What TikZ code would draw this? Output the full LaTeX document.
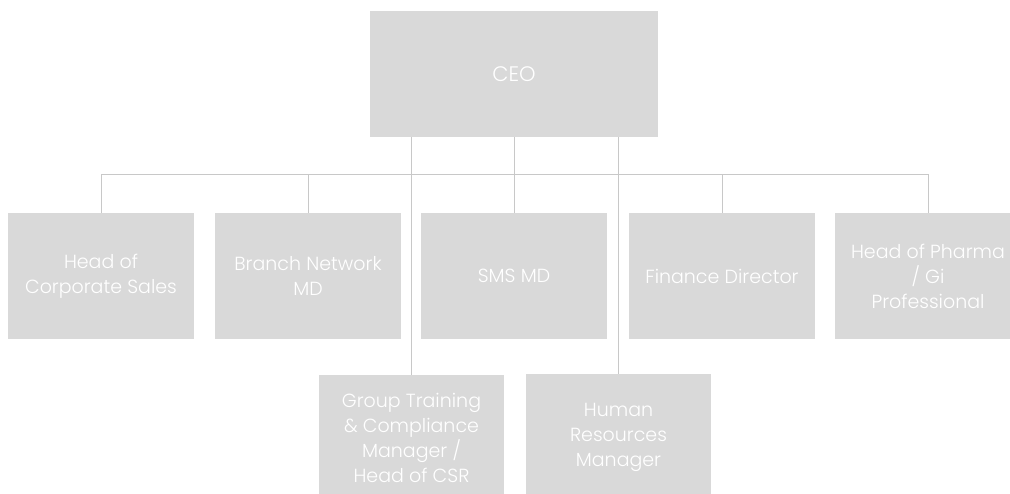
\documentclass[tikz,border=0pt]{standalone}
\usepackage{fontspec}
\setmainfont{Poppins}[UprightFont=* Light]
\begin{document}
\begin{tikzpicture}[x=1pt,y=1pt,
  box/.style={fill=boxgray,draw=none,minimum width=186pt,minimum height=126pt,inner sep=0pt,
    text=white,align=center,font=\fontsize{19}{25}\selectfont},
  link/.style={draw=linegray,line width=1pt}]
\definecolor{boxgray}{HTML}{D9D9D9}
\definecolor{linegray}{HTML}{C8C8C8}
\clip (0,0) rectangle (1010,493);
\fill[white] (0,0) rectangle (1010,493);
\node[box,minimum width=288pt,font=\fontsize{21}{25}\selectfont] (ceo) at (514,419) {CEO};
\node[box] (b1) at (101,217) {Head of\\Corporate Sales};
\node[box] (b2) at (308,217) {Branch Network\\MD};
\node[box] (b3) at (514,217) {SMS MD};
\node[box] (b4) at (722,217) {Finance Director};
\node[box] (b5) at (928,217) {Head of Pharma\\/ Gi\\Professional};
\node[box,minimum width=185pt] (grp) at (411.5,55) {Group Training\\\& Compliance\\Manager /\\Head of CSR};
\node[box,minimum width=185pt] (hr) at (618.5,56) {Human\\Resources\\Manager};
\coordinate (bus) at (0,318);
\draw[link] (b1.north) |- (bus -| b5.north) -- (b5.north);
\draw[link] (b2.north) -- (b2.north |- bus);
\draw[link] (b4.north) -- (b4.north |- bus);
\draw[link] (ceo.south) -- (b3.north);
\draw[link] (ceo.south -| grp.north) -- (grp.north);
\draw[link] (ceo.south -| hr.north) -- (hr.north);
\end{tikzpicture}
\end{document}
